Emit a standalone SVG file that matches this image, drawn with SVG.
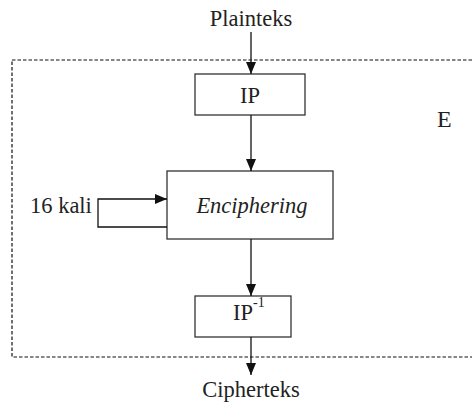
<svg xmlns="http://www.w3.org/2000/svg" width="472" height="403" viewBox="0 0 472 403">
  <style>
    .box { fill: #fff; stroke: #333; stroke-width: 1.3; }
    .wire { fill: none; stroke: #111; stroke-width: 1.3; }
    .frame { fill: none; stroke: #111; stroke-width: 1.2; stroke-dasharray: 3.5 2; }
    .lbl { font-family: "Liberation Serif", "DejaVu Serif", serif; font-size: 22.5px; fill: #222; }
    .mid { text-anchor: middle; }
  </style>
  <defs>
    <marker id="arrow" viewBox="0 0 12 10" refX="12" refY="5" markerWidth="12" markerHeight="10" markerUnits="userSpaceOnUse" orient="auto">
      <path d="M0,0 L12,5 L0,10 Z" fill="#111"/>
    </marker>
  </defs>

  <!-- enclosing block E -->
  <g id="block-E">
    <rect class="frame" x="12" y="60" width="470" height="297"/>
    <text class="lbl" x="437" y="127" style="font-size:24px">E</text>
  </g>

  <g id="plainteks">
    <text class="lbl mid" x="251" y="26">Plainteks</text>
  </g>

  <g id="ip">
    <rect class="box" x="195" y="74" width="110" height="41"/>
    <text class="lbl mid" x="250" y="103">IP</text>
  </g>

  <g id="enciphering">
    <rect class="box" x="167" y="171" width="166" height="68"/>
    <text class="lbl mid" x="252" y="213" font-style="italic">Enciphering</text>
  </g>

  <g id="rounds">
    <text class="lbl" x="30" y="213">16 kali</text>
  </g>

  <g id="ip-inverse">
    <rect class="box" x="195" y="296" width="96" height="41"/>
    <text class="lbl" x="233" y="320">IP<tspan dy="-13" style="font-size:14px">-1</tspan></text>
  </g>

  <g id="cipherteks">
    <text class="lbl mid" x="251" y="397">Cipherteks</text>
  </g>

  <g id="connectors">
    <line class="wire" x1="251" y1="32" x2="251" y2="74" marker-end="url(#arrow)"/>
    <line class="wire" x1="251" y1="115" x2="251" y2="171" marker-end="url(#arrow)"/>
    <line class="wire" x1="251" y1="239" x2="251" y2="296" marker-end="url(#arrow)"/>
    <line class="wire" x1="251" y1="337" x2="251" y2="375" marker-end="url(#arrow)"/>
    <polyline class="wire" points="167,227 98,227 98,199 167,199" marker-end="url(#arrow)"/>
  </g>
</svg>
